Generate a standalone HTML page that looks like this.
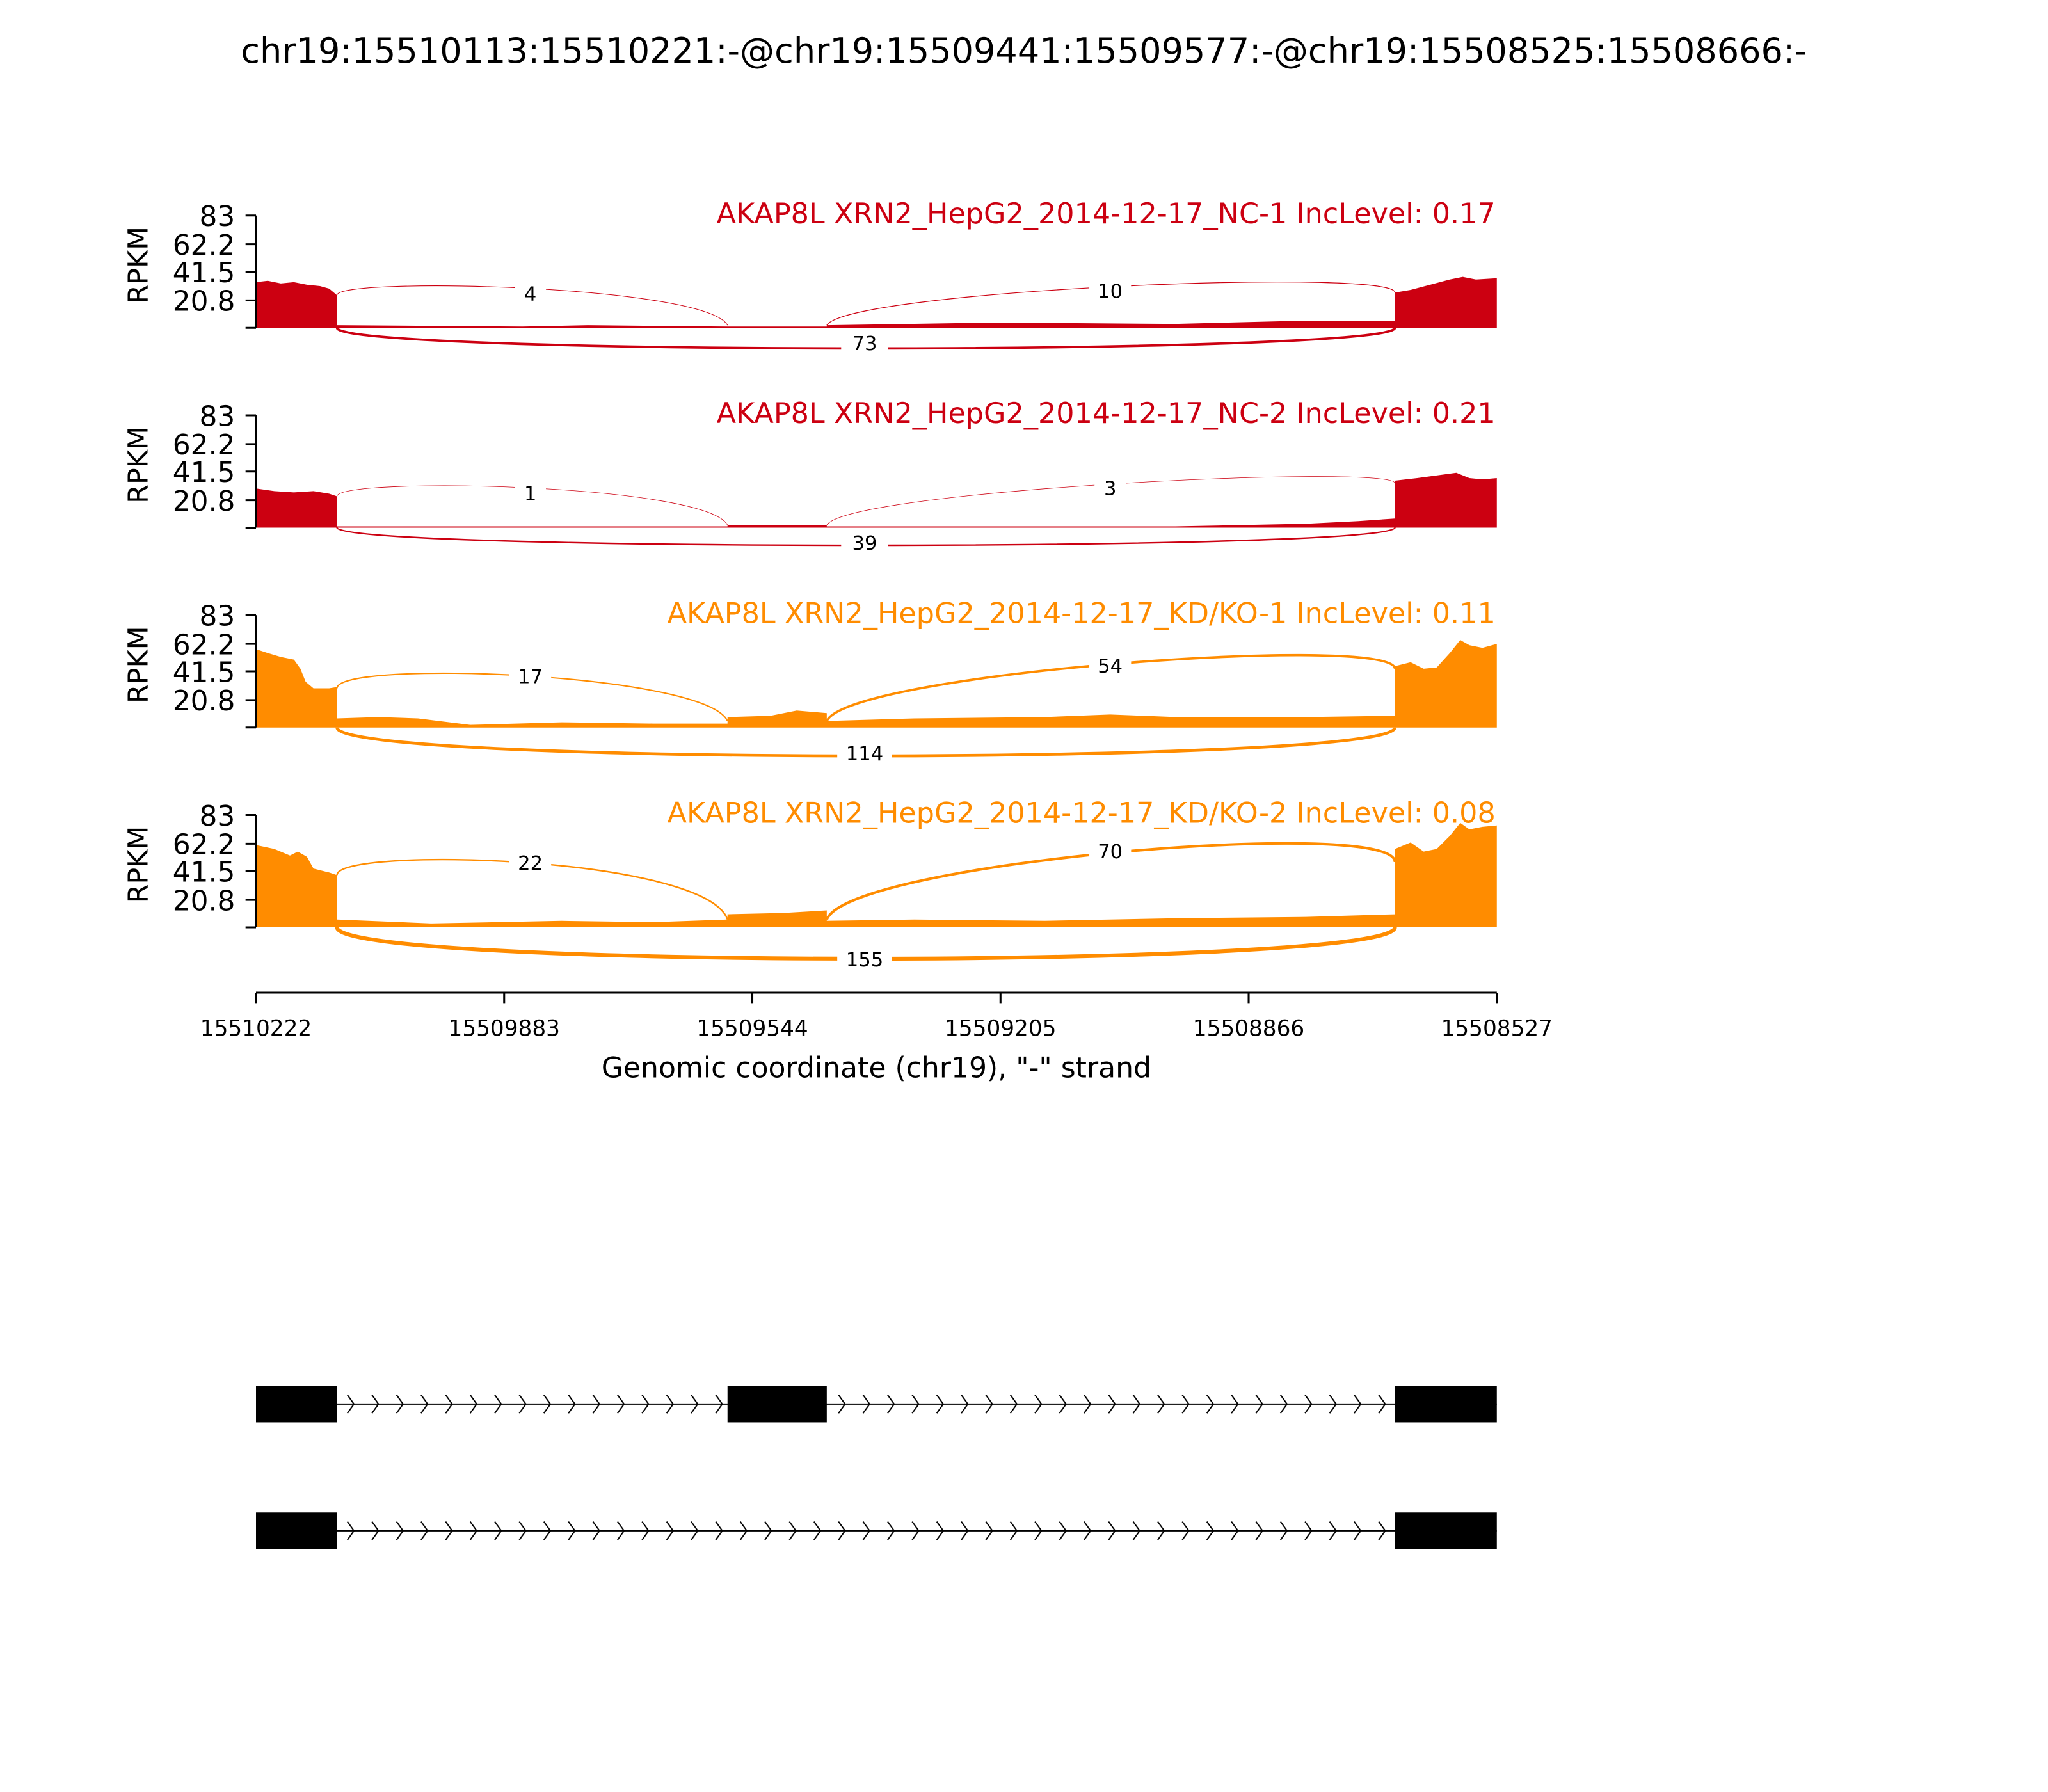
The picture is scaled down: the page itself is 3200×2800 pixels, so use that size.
<!DOCTYPE html>
<html><head><meta charset="utf-8"><style>html,body{margin:0;padding:0;background:#fff}svg{display:block}</style></head>
<body>
<svg width="3200" height="2800" viewBox="0 0 1568 1372" xmlns="http://www.w3.org/2000/svg" font-family="'DejaVu Sans','Liberation Sans',sans-serif">
<defs>
<pattern id="chev" x="262" y="0" width="18.8" height="1372" patternUnits="userSpaceOnUse">
<path d="M4,1068 L9,1075 L4,1082" fill="none" stroke="#000" stroke-width="1"/>
<path d="M4,1165 L9,1172 L4,1179" fill="none" stroke="#000" stroke-width="1"/>
</pattern>
</defs>
<rect width="1568" height="1372" fill="#fff"/>
<text x="784" y="48" font-size="26.5" text-anchor="middle">chr19:15510113:15510221:-@chr19:15509441:15509577:-@chr19:15508525:15508666:-</text>

<!-- Panel 1 -->
<g>
<path d="M196,251 L196,216 L205,215 L215,217 L225,216 L235,218 L245,219 L252,221 L258,226 L258,249 L400,250 L450,249 L557,250 L557,250 L633,250 L633,249 L760,247 L900,248 L980,246 L1068,246 L1068,224 L1080,222 L1095,218 L1110,214 L1120,212 L1130,214 L1146,213 L1146,251 Z" fill="#cc0011"/>
<path d="M258,226 C258,212 540,218 557,249" fill="none" stroke="#cc0011" stroke-width="0.5"/>
<path d="M633,249 C650,222 1068,205 1068,224" fill="none" stroke="#cc0011" stroke-width="0.6"/>
<path d="M258,251 C258,272 1068,272 1068,251" fill="none" stroke="#cc0011" stroke-width="1.8"/>
<rect x="394" y="216" width="24" height="18" fill="#fff"/><text x="406" y="230" font-size="15" text-anchor="middle">4</text>
<rect x="834" y="214" width="32" height="18" fill="#fff"/><text x="850" y="228" font-size="15" text-anchor="middle">10</text>
<rect x="644" y="254" width="36" height="18" fill="#fff"/><text x="662" y="268" font-size="15" text-anchor="middle">73</text>
<text x="1145" y="171" font-size="21.8" fill="#cc0011" text-anchor="end">AKAP8L XRN2_HepG2_2014-12-17_NC-1 IncLevel: 0.17</text>
</g>
<!-- Panel 2 -->
<g>
<path d="M196,404 L196,374 L210,376 L225,377 L240,376 L252,378 L258,380 L258,403 L557,403 L557,402 L633,402 L633,403 L900,403 L1000,401 L1040,399 L1068,397 L1068,368 L1085,366 L1100,364 L1115,362 L1125,366 L1135,367 L1146,366 L1146,404 Z" fill="#cc0011"/>
<path d="M258,380 C258,365 540,370 557,402" fill="none" stroke="#cc0011" stroke-width="0.4"/>
<path d="M633,402 C650,375 1068,355 1068,370" fill="none" stroke="#cc0011" stroke-width="0.4"/>
<path d="M258,404 C258,422 1068,422 1068,404" fill="none" stroke="#cc0011" stroke-width="1.2"/>
<rect x="394" y="369" width="24" height="18" fill="#fff"/><text x="406" y="383" font-size="15" text-anchor="middle">1</text>
<rect x="838" y="365" width="24" height="18" fill="#fff"/><text x="850" y="379" font-size="15" text-anchor="middle">3</text>
<rect x="644" y="407" width="36" height="18" fill="#fff"/><text x="662" y="421" font-size="15" text-anchor="middle">39</text>
<text x="1145" y="324" font-size="21.8" fill="#cc0011" text-anchor="end">AKAP8L XRN2_HepG2_2014-12-17_NC-2 IncLevel: 0.21</text>
</g>
<!-- Panel 3 -->
<g>
<path d="M196,557 L196,497 L205,500 L215,503 L225,505 L230,512 L234,522 L240,527 L252,527 L258,526 L258,550 L290,549 L320,550 L360,555 L430,553 L500,554 L557,554 L557,549 L590,548 L610,544 L633,546 L633,552 L700,550 L800,549 L850,547 L900,549 L1000,549 L1068,548 L1068,510 L1080,507 L1090,512 L1100,511 L1110,500 L1118,490 L1125,494 L1135,496 L1146,493 L1146,557 Z" fill="#ff8c00"/>
<path d="M258,527 C258,505 540,515 557,552" fill="none" stroke="#ff8c00" stroke-width="1"/>
<path d="M633,552 C650,515 1068,485 1068,512" fill="none" stroke="#ff8c00" stroke-width="1.8"/>
<path d="M258,557 C258,586 1068,586 1068,557" fill="none" stroke="#ff8c00" stroke-width="2.3"/>
<rect x="390" y="509" width="32" height="18" fill="#fff"/><text x="406" y="523" font-size="15" text-anchor="middle">17</text>
<rect x="834" y="501" width="32" height="18" fill="#fff"/><text x="850" y="515" font-size="15" text-anchor="middle">54</text>
<rect x="641" y="568" width="42" height="18" fill="#fff"/><text x="662" y="582" font-size="15" text-anchor="middle">114</text>
<text x="1145" y="477" font-size="21.8" fill="#ff8c00" text-anchor="end">AKAP8L XRN2_HepG2_2014-12-17_KD/KO-1 IncLevel: 0.11</text>
</g>
<!-- Panel 4 -->
<g>
<path d="M196,710 L196,647 L210,650 L222,655 L228,652 L235,656 L240,665 L252,668 L258,670 L258,704 L330,707 L430,705 L500,706 L557,704 L557,700 L600,699 L633,697 L633,705 L700,704 L800,705 L900,703 L1000,702 L1068,700 L1068,650 L1080,645 L1090,652 L1100,650 L1110,640 L1118,630 L1125,635 L1135,633 L1146,632 L1146,710 Z" fill="#ff8c00"/>
<path d="M258,670 C258,648 540,655 557,704" fill="none" stroke="#ff8c00" stroke-width="1.2"/>
<path d="M633,704 C650,660 1068,625 1068,660" fill="none" stroke="#ff8c00" stroke-width="2"/>
<path d="M258,710 C258,742 1068,742 1068,710" fill="none" stroke="#ff8c00" stroke-width="3"/>
<rect x="390" y="652" width="32" height="18" fill="#fff"/><text x="406" y="666" font-size="15" text-anchor="middle">22</text>
<rect x="834" y="643" width="32" height="18" fill="#fff"/><text x="850" y="657" font-size="15" text-anchor="middle">70</text>
<rect x="641" y="726" width="42" height="18" fill="#fff"/><text x="662" y="740" font-size="15" text-anchor="middle">155</text>
<text x="1145" y="630" font-size="21.8" fill="#ff8c00" text-anchor="end">AKAP8L XRN2_HepG2_2014-12-17_KD/KO-2 IncLevel: 0.08</text>
</g>

<!-- y axes -->
<g stroke="#000" stroke-width="1.5" fill="none">
<path d="M196,165 V251 M188,165 H196 M188,187 H196 M188,208 H196 M188,230 H196 M188,251 H196"/>
<path d="M196,318 V404 M188,318 H196 M188,340 H196 M188,361 H196 M188,383 H196 M188,404 H196"/>
<path d="M196,471 V557 M188,471 H196 M188,493 H196 M188,514 H196 M188,536 H196 M188,557 H196"/>
<path d="M196,624 V710 M188,624 H196 M188,646 H196 M188,667 H196 M188,689 H196 M188,710 H196"/>
</g>
<g font-size="21.5" text-anchor="end">
<text x="180" y="173">83</text><text x="180" y="195">62.2</text><text x="180" y="216">41.5</text><text x="180" y="238">20.8</text>
<text x="180" y="326">83</text><text x="180" y="348">62.2</text><text x="180" y="369">41.5</text><text x="180" y="391">20.8</text>
<text x="180" y="479">83</text><text x="180" y="501">62.2</text><text x="180" y="522">41.5</text><text x="180" y="544">20.8</text>
<text x="180" y="632">83</text><text x="180" y="654">62.2</text><text x="180" y="675">41.5</text><text x="180" y="697">20.8</text>
</g>
<g font-size="21" text-anchor="middle">
<text transform="translate(113,203) rotate(-90)">RPKM</text>
<text transform="translate(113,356) rotate(-90)">RPKM</text>
<text transform="translate(113,509) rotate(-90)">RPKM</text>
<text transform="translate(113,662) rotate(-90)">RPKM</text>
</g>

<!-- x axis -->
<g stroke="#000" stroke-width="1.5">
<path d="M196,760 H1146 M196,760 V768 M386,760 V768 M576,760 V768 M766,760 V768 M956,760 V768 M1146,760 V768"/>
</g>
<g font-size="16.8" text-anchor="middle">
<text x="196" y="793">15510222</text><text x="386" y="793">15509883</text><text x="576" y="793">15509544</text>
<text x="766" y="793">15509205</text><text x="956" y="793">15508866</text><text x="1146" y="793">15508527</text>
</g>
<text x="671" y="825" font-size="21.6" text-anchor="middle">Genomic coordinate (chr19), "-" strand</text>

<!-- gene models -->
<g>
<rect x="258" y="1066" width="810" height="18" fill="url(#chev)"/>
<line x1="196" y1="1075" x2="1146" y2="1075" stroke="#000" stroke-width="1"/>
<rect x="196" y="1061" width="62" height="28" fill="#000"/>
<rect x="557" y="1061" width="76" height="28" fill="#000"/>
<rect x="1068" y="1061" width="78" height="28" fill="#000"/>
<rect x="258" y="1163" width="810" height="18" fill="url(#chev)"/>
<line x1="196" y1="1172" x2="1146" y2="1172" stroke="#000" stroke-width="1"/>
<rect x="196" y="1158" width="62" height="28" fill="#000"/>
<rect x="1068" y="1158" width="78" height="28" fill="#000"/>
</g>
</svg>
</body></html>
